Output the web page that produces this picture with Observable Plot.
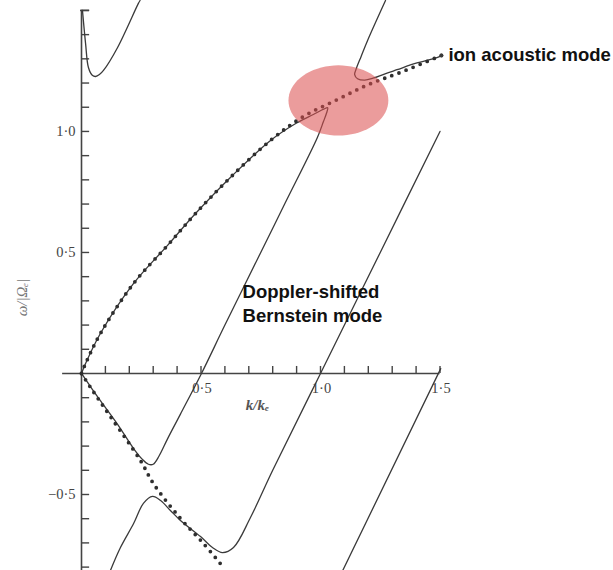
<!DOCTYPE html>
<html>
<head>
<meta charset="utf-8">
<script src="https://cdn.jsdelivr.net/npm/d3@7"></script>
<script src="https://cdn.jsdelivr.net/npm/@observablehq/plot@0.6"></script>
<style>
  html, body { margin: 0; padding: 0; background: #fff; }
  #chart svg { display: block; }
</style>
</head>
<body>
<div id="chart"></div>
<script>
// ---------- data ----------
// ion acoustic mode, positive branch (dotted)
const ionK = [0, 0.017, 0.079, 0.218, 0.360, 0.477, 0.623, 0.791, 0.929, 1.071, 1.201, 1.335, 1.506];
const ionW = [0, 0.041, 0.165, 0.372, 0.529, 0.661, 0.810, 0.963, 1.062, 1.132, 1.194, 1.244, 1.314];
// ion acoustic mode, negative branch (dotted)
const negK = [0, 0.038, 0.121, 0.247, 0.301, 0.414, 0.510, 0.598];
const negW = [0, -0.058, -0.178, -0.360, -0.455, -0.599, -0.702, -0.806];
// coupled solution: lower branch loop (solid)
const loopK = [0, 0.017, 0.079, 0.218, 0.360, 0.477, 0.623, 0.791, 0.900, 0.970, 1.013, 1.030, 1.025, 1.012, 0.987, 0.850, 0.750, 0.600, 0.502, 0.414, 0.360, 0.325, 0.300, 0.280, 0.255, 0.218, 0.151, 0.079, 0.038, 0];
const loopW = [0, 0.041, 0.165, 0.372, 0.529, 0.661, 0.810, 0.963, 1.035, 1.070, 1.092, 1.098, 1.075, 1.040, 0.975, 0.700, 0.500, 0.200, 0, -0.168, -0.270, -0.340, -0.375, -0.375, -0.355, -0.310, -0.210, -0.112, -0.055, 0];
// coupled solution: upper branch (solid)
const upperK = [1.272, 1.197, 1.170, 1.150, 1.143, 1.155, 1.185, 1.220, 1.270, 1.320, 1.400, 1.490, 1.506];
const upperW = [1.541, 1.376, 1.310, 1.260, 1.235, 1.218, 1.212, 1.220, 1.238, 1.255, 1.282, 1.306, 1.314];
// negative-frequency Doppler-shifted Bernstein branch (solid)
const lowK = [0.121, 0.163, 0.218, 0.259, 0.297, 0.331, 0.372, 0.414, 0.498, 0.548, 0.590, 0.636, 0.707, 0.800, 1.000, 1.250, 1.500];
const lowW = [-0.814, -0.719, -0.620, -0.537, -0.508, -0.525, -0.566, -0.607, -0.674, -0.719, -0.740, -0.719, -0.595, -0.400, 0, 0.500, 1.000];
// top-left branch (solid)
const topK = [0.004, 0.017, 0.029, 0.045, 0.059, 0.075, 0.092, 0.151, 0.238, 0.245];
const topW = [1.500, 1.364, 1.264, 1.232, 1.227, 1.235, 1.252, 1.347, 1.529, 1.541];
// right-most Bernstein line (solid)
const rightK = [1.503, 1.093];
const rightW = [0.020, -0.814];

// axes
const xTicks = [0.1, 0.2, 0.3, 0.4, 0.5, 0.6, 0.7, 0.8, 0.9, 1.0, 1.1, 1.2, 1.3, 1.4, 1.5];
const yTicks = [-0.8, -0.7, -0.6, -0.5, -0.4, -0.3, -0.2, -0.1, 0.1, 0.2, 0.3, 0.4, 0.5, 0.6, 0.7, 0.8, 0.9, 1.0, 1.1, 1.2, 1.3, 1.4, 1.5];
const xLabelVals = [0.5, 1.0, 1.5];
const xLabelText = ["0·5", "1·0", "1·5"];
const yLabelVals = [1.0, 0.5, -0.5];
const yLabelText = ["1·0", "0·5", "−0·5"];

// highlight ellipse (centre and half-axes, data units)
const hlK = [1.075];
const hlW = [1.128];
const hlRK = [0.209];
const hlRW = [0.145];

// annotations
const noteText = ["ion acoustic mode", "Doppler-shifted\nBernstein mode"];
const noteK = [1.506, 0.674];
const noteW = [1.314, 0.293];

// ---------- helpers ----------
const zip = (K, W) => K.map((k, i) => ({k, w: W[i]}));
const ellipse = d3.range(0, 73).map(i => {
  const a = (i / 72) * 2 * Math.PI;
  return {k: hlK[0] + hlRK[0] * Math.cos(a), w: hlW[0] + hlRW[0] * Math.sin(a)};
});

const INK = "#3a3a3a";
const serif = "'Liberation Serif', 'DejaVu Serif', serif";
const sans = "'Liberation Sans', Arial, sans-serif";

const solid = (K, W) => Plot.line(zip(K, W), {x: "k", y: "w", stroke: INK, strokeWidth: 1.3, curve: "catmull-rom"});
const dotted = (K, W) => Plot.line(zip(K, W), {x: "k", y: "w", stroke: "#2e2e2e", strokeWidth: 3.8, strokeDasharray: "0 7.6", strokeLinecap: "round", curve: "catmull-rom"});

const chart = Plot.plot({
  width: 613,
  height: 570,
  marginLeft: 81,
  marginRight: 54,
  marginTop: 0,
  marginBottom: 0,
  style: {background: "#fff", overflow: "visible"},
  x: {domain: [0, 2], axis: null},
  y: {domain: [-0.814, 1.541], axis: null},
  marks: [
    // axes lines
    Plot.ruleX([0], {y1: -0.814, y2: 1.5, stroke: "#444", strokeWidth: 1.6}),
    Plot.ruleY([0], {x1: -0.079, x2: 1.5, stroke: "#444", strokeWidth: 1.6}),
    // ticks (pointing right on y, up on x)
    Plot.ruleY(yTicks, {y: d => d, x1: 0, x2: 0.034, stroke: "#444", strokeWidth: 1.4}),
    Plot.ruleY([1.5], {x1: -0.004, x2: 0.034, stroke: "#444", strokeWidth: 1.6}),
    Plot.ruleX(xTicks, {x: d => d, y1: 0, y2: 0.029, stroke: "#444", strokeWidth: 1.4}),
    // tick labels
    Plot.text(yLabelVals, {x: 0, y: d => d, text: (d, i) => yLabelText[i], dx: -6, textAnchor: "end", fontFamily: serif, fontSize: 14.5, fill: "#444"}),
    Plot.text(xLabelVals, {x: d => d, y: 0, text: (d, i) => xLabelText[i], dx: 1, dy: 15, fontFamily: serif, fontSize: 14.5, fill: "#444"}),
    // axis titles
    Plot.text(["k/kₑ"], {x: 0.736, y: -0.132, text: d => d, fontFamily: serif, fontStyle: "italic", fontWeight: "bold", fontSize: 15, fill: "#555"}),
    Plot.text(["ω/|Ωₑ|"], {x: -0.247, y: 0.314, text: d => d, rotate: -90, fontFamily: serif, fontStyle: "italic", fontSize: 15, fill: "#777"}),
    // curves
    solid(topK, topW),
    solid(loopK, loopW),
    solid(upperK, upperW),
    solid(lowK, lowW),
    solid(rightK, rightW),
    dotted(ionK, ionW),
    dotted(negK, negW),
    Plot.dot([ionK.length - 1], {x: i => ionK[i], y: i => ionW[i], r: 2, fill: INK}),
    // highlight ellipse
    Plot.line(ellipse, {x: "k", y: "w", fill: "#db4f4f", fillOpacity: 0.56, stroke: "none", curve: "linear-closed"}),
    // annotations
    Plot.text([0], {x: i => noteK[i], y: i => noteW[i], text: i => noteText[i], dx: 7, textAnchor: "start", fontFamily: sans, fontWeight: "bold", fontSize: 18.5, fill: "#111"}),
    Plot.text([1], {x: i => noteK[i], y: i => noteW[i], text: i => noteText[i], textAnchor: "start", lineHeight: 1.3, fontFamily: sans, fontWeight: "bold", fontSize: 18.5, fill: "#111"})
  ]
});
document.getElementById("chart").appendChild(chart);
</script>
</body>
</html>
